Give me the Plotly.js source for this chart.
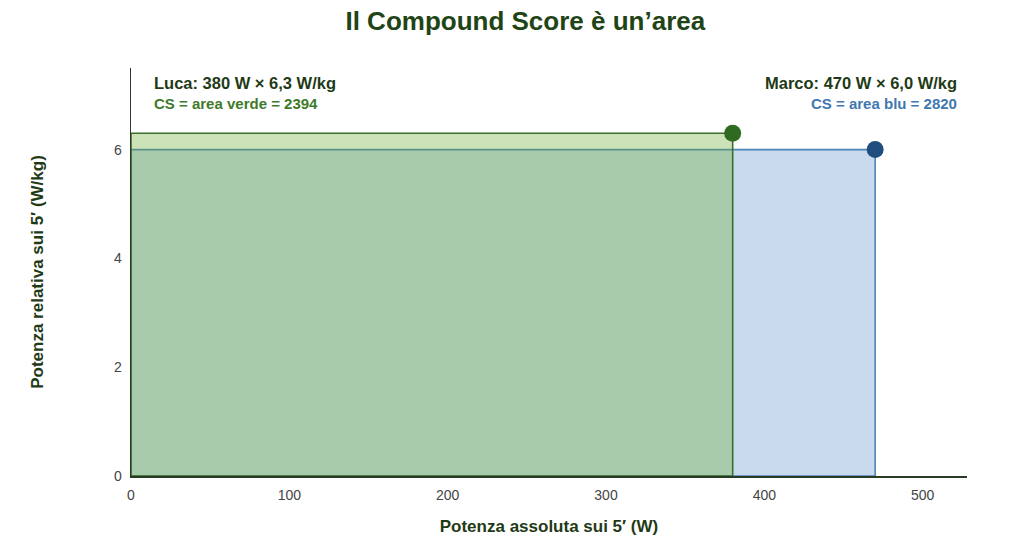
<!doctype html>
<html>
<head>
  <meta charset="utf-8">
  <title>Il Compound Score è un’area</title>
  <script src="https://cdn.plot.ly/plotly-3.0.1.min.js"></script>
  <style>
    body { margin: 0; font-family: "Liberation Sans", Arial, sans-serif; }
    #chart { width: 1024px; height: 560px; }
  </style>
</head>
<body>
  <div id="chart"></div>
  <script>
    // athletes: absolute power (W) and relative power (W/kg) over 5'
    var athletes = ['Marco', 'Luca'];
    var watts = [470, 380];
    var wkg = [6.0, 6.3];
    var areaNames = ['area blu', 'area verde'];

    var xTicks = [0, 100, 200, 300, 400, 500];
    var yTicks = [0, 2, 4, 6];

    var fills = ['rgba(200,218,236,1)', 'rgba(110,175,55,0.35)'];
    var lines = ['#4f84ba', '#3c6e2c'];
    var dots = ['#1f4d7e', '#2e6a1f'];
    var labelCol = ['#3f78b0', '#3f7a2a'];

    var font = '"Liberation Sans", Arial, sans-serif';

    var traces = [];
    var annotations = [];

    for (var i = 0; i < athletes.length; i++) {
      // rectangle with the area W x W/kg
      traces.push({
        x: [0, watts[i], watts[i], 0, 0],
        y: [0, 0, wkg[i], wkg[i], 0],
        mode: 'lines',
        fill: 'toself',
        fillcolor: fills[i],
        line: { color: lines[i], width: 1.6 },
        hoverinfo: 'skip',
        showlegend: false
      });
    }
    for (var j = 0; j < athletes.length; j++) {
      traces.push({
        x: [watts[j]],
        y: [wkg[j]],
        mode: 'markers',
        marker: { color: dots[j], size: 17 },
        showlegend: false
      });
    }

    // text labels: Luca on the left, Marco on the right
    var sides = [
      { idx: 1, x: 0.0255, anchor: 'left' },
      { idx: 0, x: 0.99, anchor: 'right' }
    ];
    sides.forEach(function (s) {
      var k = s.idx;
      var cs = Math.round(watts[k] * wkg[k]);
      annotations.push({
        xref: 'paper', yref: 'paper', x: s.x, y: 0.963,
        xanchor: s.anchor, yanchor: 'middle', showarrow: false,
        text: '<b>' + athletes[k] + ': ' + watts[k] + ' W × ' +
              wkg[k].toFixed(1).replace('.', ',') + ' W/kg</b>',
        font: { family: font, size: 16.5, color: '#1f3a16' }
      });
      annotations.push({
        xref: 'paper', yref: 'paper', x: s.x, y: 0.914,
        xanchor: s.anchor, yanchor: 'middle', showarrow: false,
        text: '<b>CS = ' + areaNames[k] + ' = ' + cs + '</b>',
        font: { family: font, size: 15, color: labelCol[k] }
      });
    });

    var layout = {
      width: 1024,
      height: 560,
      margin: { l: 131, r: 57, t: 68, b: 84 },
      paper_bgcolor: '#ffffff',
      plot_bgcolor: '#ffffff',
      font: { family: font, size: 14, color: '#444444' },
      title: {
        text: '<b>Il Compound Score è un’area</b>',
        x: 0.513, xanchor: 'center', y: 0.962, yanchor: 'middle',
        font: { family: font, size: 26, color: '#1f4416' }
      },
      xaxis: {
        range: [0, 528],
        tickvals: xTicks,
        showgrid: false,
        zeroline: false,
        showline: true,
        linecolor: '#2b3a26',
        linewidth: 1.5,
        ticks: '',
        ticklen: 0,
        ticklabelstandoff: 6,
        tickfont: { size: 14, color: '#444444' },
        title: {
          text: '<b>Potenza assoluta sui 5′ (W)</b>',
          standoff: 18,
          font: { family: font, size: 17, color: '#1f3a16' }
        }
      },
      yaxis: {
        range: [0, 7.5],
        tickvals: yTicks,
        showgrid: false,
        zeroline: false,
        showline: true,
        linecolor: '#2b3a26',
        linewidth: 1.5,
        ticks: '',
        ticklen: 0,
        ticklabelstandoff: 5,
        tickfont: { size: 14, color: '#444444' },
        title: {
          text: '<b>Potenza relativa sui 5′ (W/kg)</b>',
          standoff: 66,
          font: { family: font, size: 17, color: '#1f3a16' }
        }
      },
      annotations: annotations,
      showlegend: false
    };

    Plotly.newPlot('chart', traces, layout, { displayModeBar: false, staticPlot: true });
  </script>
</body>
</html>
